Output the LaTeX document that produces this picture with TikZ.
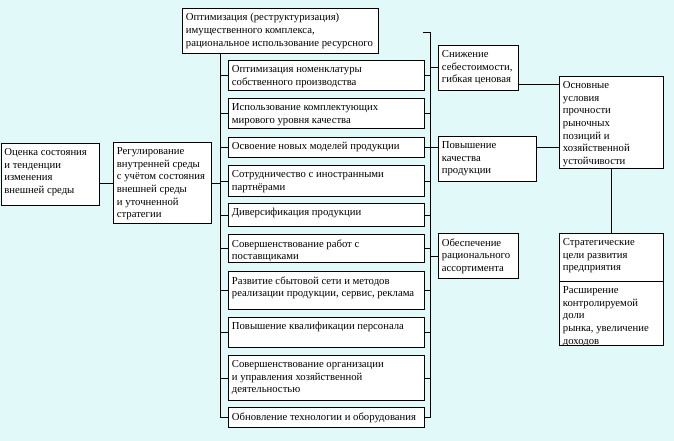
\documentclass[tikz,border=0pt]{standalone}
\usepackage{fontspec}
\setmainfont{Liberation Serif}
\usetikzlibrary{calc}
\definecolor{bgcyan}{RGB}{226,249,249}
\newcommand{\cell}[3]{\parbox[t][\dimexpr#2pt-10pt\relax][t]{\dimexpr#1pt-7pt\relax}{\raggedright#3}}
\tikzset{
  blk/.style={draw, fill=white, anchor=north west, inner xsep=3.5pt, inner ysep=5pt, line width=0.8pt},
  lnk/.style={line width=0.8pt},
}

\begin{document}
\begin{tikzpicture}[x=1pt,y=-1pt,font=\fontsize{10.7}{12.7}\selectfont]
    \fill[bgcyan] (0,0) rectangle (674,441);
    \useasboundingbox (0,0) rectangle (674,441);

    \node[blk] (eval) at (0.5,143) {\cell{98}{62}{Оценка состояния\\и тенденции\\изменения\\внешней среды}};
    \node[blk] (reg) at (113,142) {\cell{98}{81}{Регулирование\\внутренней среды\\с учётом состояния\\внешней среды\\и уточненной\\стратегии}};
    \node[blk] (opt) at (182,8) {\cell{196}{45}{Оптимизация (реструктуризация)\\имущественного комплекса,\\рациональное использование ресурсного}};

    \node[blk] (m1) at (228,60) {\cell{196}{30}{Оптимизация номенклатуры\\собственного производства}};
    \node[blk] (m2) at (228,98) {\cell{196}{30}{Использование комплектующих\\мирового уровня качества}};
    \node[blk] (m3) at (228,137) {\cell{196}{20}{Освоение новых моделей продукции}};
    \node[blk] (m4) at (228,165) {\cell{196}{31}{Сотрудничество с иностранными\\партнёрами}};
    \node[blk] (m5) at (228,203) {\cell{196}{23}{Диверсификация продукции}};
    \node[blk] (m6) at (228,234) {\cell{196}{28}{Совершенствование работ с\\поставщиками}};
    \node[blk] (m7) at (228,271) {\cell{196}{38}{Развитие сбытовой сети и методов\\реализации продукции, сервис, реклама}};
    \node[blk] (m8) at (228,317) {\cell{196}{30}{Повышение квалификации персонала}};
    \node[blk] (m9) at (228,355) {\cell{196}{45}{Совершенствование организации\\и управления хозяйственной\\деятельностью}};
    \node[blk] (m10) at (228,407) {\cell{196}{20}{Обновление технологии и оборудования}};

    \node[blk] (r1) at (438,45) {\cell{80}{45}{Снижение\\себестоимости,\\гибкая ценовая}};
    \node[blk] (r2) at (438,136) {\cell{98}{45}{Повышение\\качества\\продукции}};
    \node[blk] (r3) at (438,233) {\cell{80}{45}{Обеспечение\\рационального\\ассортимента}};

    \node[blk] (main) at (559,76) {\cell{104}{92}{Основные\\условия\\прочности\\рыночных\\позиций и\\хозяйственной\\устойчивости}};
    \node[blk] (goal) at (559,233) {\cell{104}{48}{Стратегические\\цели развития\\предприятия}};
    \begin{scope}
        \clip (558,280) rectangle (665,345.4);
        \node[blk] (goal2) at (559,281) {\cell{104}{64}{Расширение\\контролируемой\\доли\\рынка, увеличение\\доходов}};
    \end{scope}

    % buses
    \coordinate (lb) at (220,0); \coordinate (rb) at (430,0);
    \coordinate (rtop) at (423,32);
    \draw[lnk] (reg.west -| eval.east) -- (reg.west);
    \draw[lnk] (reg.east) -- (reg.east -| lb);
    \draw[lnk] (opt.south -| lb) -- (m10.west -| lb) -- (m10.west);
    \draw[lnk] (rtop) -- (rtop -| rb) -- (m10.east -| rb) -- (m10.east);
    \foreach \i in {1,...,9} {
        \draw[lnk] (m\i.west -| lb) -- (m\i.west);
        \draw[lnk] (m\i.east) -- (m\i.east -| rb);
    }
    \foreach \r in {r1,r3} \draw[lnk] (\r.west -| rb) -- (\r.west);
    \draw[lnk] (m3.east -| rb) -- (m3.east -| r2.west);

    % to the goals
    \coordinate (s1) at ($(r1.south east)+(0,-6)$);
    \draw[lnk] (s1) -- (s1 -| main.west);
    \draw[lnk] (m3.east -| r2.east) -- (m3.east -| main.west);
    \draw[lnk] (main.south) -- (goal.north);
\end{tikzpicture}
\end{document}
